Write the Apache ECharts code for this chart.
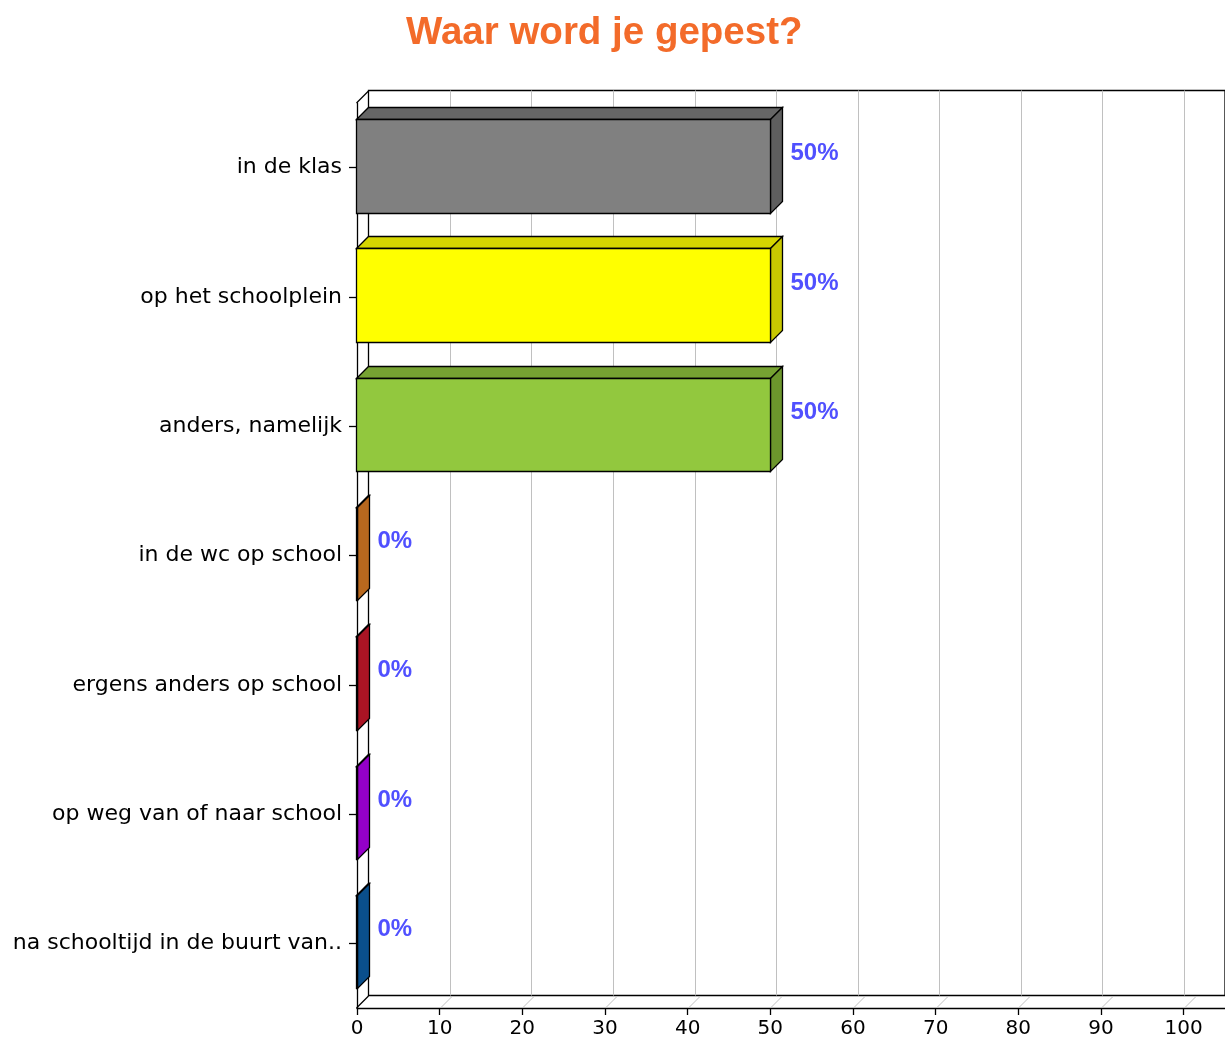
<!DOCTYPE html>
<html>
<head>
<meta charset="utf-8">
<script src="https://cdn.jsdelivr.net/npm/echarts@6/dist/echarts.min.js"></script>
<style>
  html, body { margin: 0; padding: 0; background: #fff; }
  #chart { width: 1225px; height: 1041px; }
</style>
</head>
<body>
<div id="chart"></div>
<script>
const categories = [
  'in de klas',
  'op het schoolplein',
  'anders, namelijk',
  'in de wc op school',
  'ergens anders op school',
  'op weg van of naar school',
  'na schooltijd in de buurt van..'
]
const percentages = [50, 50, 50, 0, 0, 0, 0]
const floorTicks = [0, 10, 20, 30, 40, 50, 60, 70, 80, 90, 100]

// front / top / side shades for each bar
const barColors = [
  { front: '#808080', top: '#666666', side: '#5e5e5e' },
  { front: '#ffff00', top: '#d6d600', side: '#c8c800' },
  { front: '#92c83e', top: '#76a232', side: '#6c962c' },
  { front: '#d27a22', top: '#b8681e', side: '#b8681e' },
  { front: '#c4182a', top: '#aa1424', side: '#aa1424' },
  { front: '#a800dc', top: '#9400c8', side: '#9400c8' },
  { front: '#0c5a9e', top: '#0a4f8c', side: '#0a4f8c' }
]

const D = 12 // depth of the 3d effect in px
const snap = (v) => Math.round(v) + 0.5

const chart = echarts.init(document.getElementById('chart'))

function renderBar(params, api) {
  const i = api.value(1)
  const v = api.value(0)
  const c = api.coord([v, i])
  const c0 = api.coord([0, i])
  const bw = api.size([0, 1])[1]
  const top = snap(c[1] - bw * 0.375)
  const bot = snap(c[1] + bw * 0.348)
  const x0 = snap(c0[0]) - 1
  const x1 = snap(c[0])
  const col = barColors[i]
  const stroke = { stroke: '#000', lineWidth: 1.3 }
  return {
    type: 'group',
    children: [
      {
        type: 'polygon',
        shape: { points: [[x0, top], [x0 + D, top - D], [x1 + D, top - D], [x1, top]] },
        style: Object.assign({ fill: col.top }, stroke)
      },
      {
        type: 'polygon',
        shape: { points: [[x1, top], [x1 + D, top - D], [x1 + D, bot - D], [x1, bot]] },
        style: Object.assign({ fill: col.side }, stroke)
      },
      {
        type: 'rect',
        shape: { x: x0, y: top, width: x1 - x0, height: bot - top },
        style: Object.assign({ fill: col.front }, stroke)
      },
      {
        type: 'text',
        x: x1 + D + 8,
        y: c[1] - D - 2,
        style: {
          text: v + '%',
          fill: '#5050ff',
          font: 'bold 24px "Liberation Sans", Arial, sans-serif',
          verticalAlign: 'middle'
        }
      }
    ]
  }
}

function renderFloor(params, api) {
  const v = api.value(0)
  const cs = params.coordSys
  const x = snap(api.coord([v, 0])[0]) - (v === 0 ? 1 : 0)
  const yb = cs.y + cs.height
  const children = [{
    type: 'line',
    shape: { x1: x, y1: yb, x2: x + D, y2: yb - D },
    style: { stroke: v === 0 ? '#000' : '#c0c0c0', lineWidth: v === 0 ? 1.3 : 1 }
  }]
  if (v === 0) {
    children.push({
      type: 'line',
      shape: { x1: x, y1: cs.y, x2: x + D, y2: cs.y - D },
      style: { stroke: '#000', lineWidth: 1.3 }
    })
  }
  return { type: 'group', children }
}

chart.setOption({
  animation: false,
  backgroundColor: '#fff',
  title: {
    text: 'Waar word je gepest?',
    left: 401,
    top: 9,
    textStyle: {
      color: '#f36b2a',
      fontSize: 38.5,
      fontWeight: 'bold',
      fontFamily: '"Liberation Sans", Arial, sans-serif'
    }
  },
  grid: [
    { left: 357, top: 103, right: 0, height: 905 },
    { left: 368.5, top: 90.5, right: -12, height: 905, show: true, borderColor: '#000', borderWidth: 1.3 }
  ],
  xAxis: [
    {
      gridIndex: 0,
      type: 'value',
      min: 0,
      max: 105,
      interval: 10,
      axisLine: { show: true, lineStyle: { color: '#000', width: 1.3 } },
      axisTick: { show: true, length: 7, lineStyle: { color: '#000', width: 1.3 } },
      axisLabel: {
        color: '#000',
        fontSize: 20,
        fontFamily: '"DejaVu Sans", sans-serif',
        margin: 11,
        showMaxLabel: false
      },
      splitLine: { show: false }
    },
    {
      gridIndex: 1,
      type: 'value',
      min: 0,
      max: 105,
      interval: 10,
      axisLine: { show: false },
      axisTick: { show: false },
      axisLabel: { show: false },
      splitLine: { show: true, showMinLine: false, showMaxLine: false, lineStyle: { color: '#c0c0c0', width: 1 } }
    }
  ],
  yAxis: [
    {
      gridIndex: 0,
      type: 'category',
      data: categories,
      inverse: true,
      axisLine: { show: true, lineStyle: { color: '#000', width: 1.3 } },
      axisTick: { show: true, length: 8, alignWithLabel: true, lineStyle: { color: '#000', width: 1.3 } },
      axisLabel: {
        color: '#000',
        fontSize: 22,
        fontFamily: '"DejaVu Sans", sans-serif',
        margin: 15
      },
      splitLine: { show: false }
    },
    {
      gridIndex: 1,
      type: 'category',
      data: categories,
      inverse: true,
      axisLine: { show: false },
      axisTick: { show: false },
      axisLabel: { show: false },
      splitLine: { show: false }
    }
  ],
  series: [
    {
      type: 'custom',
      xAxisIndex: 0,
      yAxisIndex: 0,
      renderItem: renderFloor,
      data: floorTicks.map((t) => [t, 0]),
      silent: true,
      clip: false,
      z: 1
    },
    {
      type: 'custom',
      xAxisIndex: 0,
      yAxisIndex: 0,
      renderItem: renderBar,
      data: percentages.map((p, i) => [p, i]),
      encode: { x: 0, y: 1 },
      clip: false,
      z: 3
    }
  ]
})
</script>
</body>
</html>
